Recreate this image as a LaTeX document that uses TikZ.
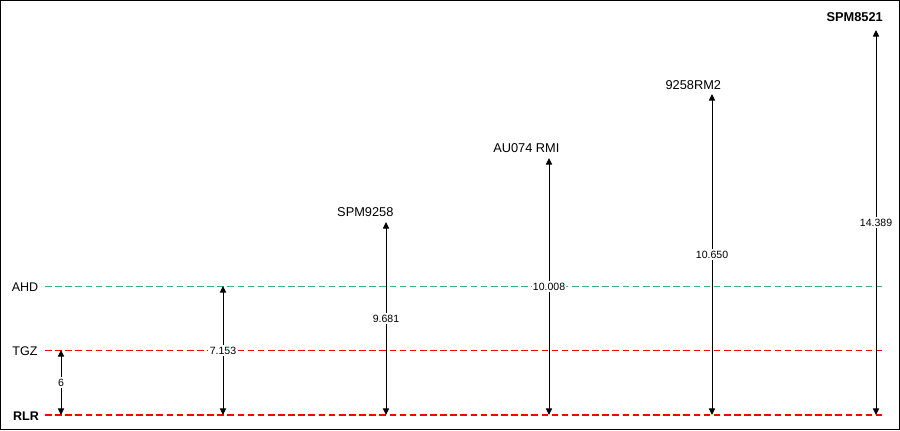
\documentclass[tikz,border=0pt]{standalone}
\usepackage{fontspec}
\setmainfont{Liberation Sans}
\usetikzlibrary{arrows.meta}

\definecolor{ahdgreen}{RGB}{60,179,113}

\begin{document}
\begin{tikzpicture}[x = 0.75pt, y = -0.75pt,
        > = {Triangle[length = 5pt, width = 4.6pt]},
        level/.style = {dash pattern = on 5pt off 2.6pt, line width = 0.75pt},
        levelname/.style = {font = \fontsize{9.4}{10}\selectfont, inner sep = 1pt},
        station/.style = {font = \fontsize{9.6}{10}\selectfont, inner sep = 1pt},
        reading/.style = {font = \fontsize{7.9}{9}\selectfont, fill = white, inner sep = 1pt}]

        % Frame and picture size.
        \useasboundingbox (0, 0) rectangle (900, 430);
        \draw[line width = 0.9pt] (0.6, 0.6) rectangle (899.4, 429.4);

        % Ends of the datum lines.
        \coordinate (AHDL) at (45, 286);
        \coordinate (AHDR) at (882, 286);
        \coordinate (TGZL) at (45, 350);
        \coordinate (TGZR) at (882, 350);
        \coordinate (RLRL) at (45, 415);
        \coordinate (RLRR) at (882, 415);

        % Draw and label the datum lines.
        \draw[level, draw = ahdgreen] (AHDL) to (AHDR);
        \draw[level, draw = red] (TGZL) to (TGZR);
        \draw[level, draw = red, line width = 1.6pt] (RLRL) to (RLRR);
        \node[levelname] (ahd) at (25, 287) {AHD};
        \node[levelname] (tgz) at (25, 351) {TGZ};
        \node[levelname] (rlr) at (26, 416) {\bfseries RLR};

        % Heights above RLR, one arrow for each mark.
        \foreach \i/\x/\y/\h in {1/61/350/6, 2/223/286/7.153, 3/386/222/9.681,
                4/549/158/10.008, 5/712/94/10.650, 6/876/30/14.389} {
            \coordinate (B\i) at (\x, 415);
            \coordinate (T\i) at (\x, \y);
            \draw[<->, line width = 0.75pt] (B\i) to node[reading] (h\i) {\h} (T\i);
        }

        % Names of the marks.
        \node[station] (spmA) at ([xshift = -15.5pt, yshift = 7.5pt] T3) {SPM9258};
        \node[station] (au) at ([xshift = -17pt, yshift = 7.5pt] T4) {AU074 RMI};
        \node[station] (rm) at ([xshift = -14pt, yshift = 7pt] T5) {9258RM2};
        \node[station] (spmB) at ([xshift = -16pt, yshift = 9.5pt] T6) {\bfseries SPM8521};
    \end{tikzpicture}
\end{document}
